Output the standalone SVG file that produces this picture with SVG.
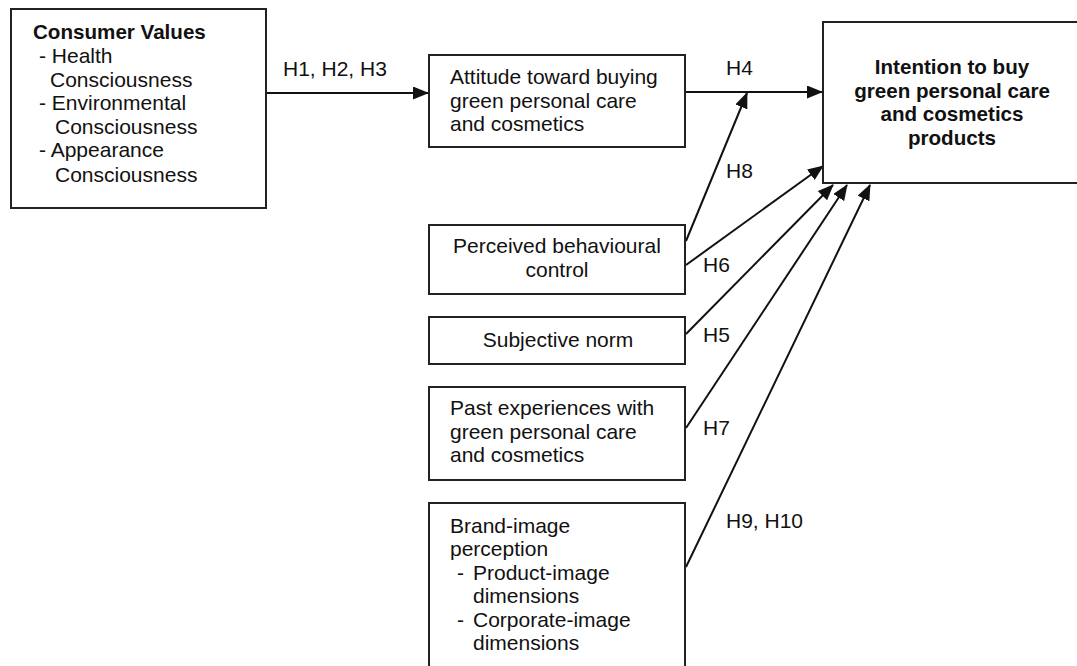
<svg xmlns="http://www.w3.org/2000/svg" width="1077" height="666" viewBox="0 0 1077 666">
<style>
.box{fill:#fff;stroke:#222;stroke-width:2}
.t{font-family:"Liberation Sans",Arial,sans-serif;font-size:21px;fill:#111}
.b{font-weight:bold;font-size:20.6px}
.c{text-anchor:middle}
.e{stroke:#111;stroke-width:2;fill:none;marker-end:url(#ah)}
</style>
<defs>
<marker id="ah" markerUnits="userSpaceOnUse" markerWidth="17" markerHeight="13" refX="15" refY="6.5" orient="auto">
<path d="M0,0 L16,6.5 L0,13 z" fill="#111"/>
</marker>
</defs>
<rect width="1077" height="666" fill="#fff"/>
<g id="connectors">
<line class="e" x1="266" y1="93" x2="428" y2="93"/>
<line class="e" x1="685" y1="92" x2="822" y2="92"/>
<line class="e" x1="686" y1="241" x2="747" y2="93"/>
<line class="e" x1="686" y1="265" x2="823" y2="166"/>
<line class="e" x1="686" y1="334" x2="833" y2="185"/>
<line class="e" x1="686" y1="428" x2="847" y2="185"/>
<line class="e" x1="686" y1="567" x2="870" y2="185"/>
</g>
<g id="labels">
<text class="t" x="283" y="76">H1, H2, H3</text>
<text class="t" x="726" y="75">H4</text>
<text class="t" x="726" y="178">H8</text>
<text class="t" x="703" y="272">H6</text>
<text class="t" x="703" y="342">H5</text>
<text class="t" x="703" y="435">H7</text>
<text class="t" x="726" y="528">H9, H10</text>
</g>
<g id="consumer-values">
<rect class="box" x="11" y="9" width="255" height="199"/>
<text class="t b" x="33" y="39">Consumer Values</text>
<text class="t" x="39" y="63">- Health</text>
<text class="t" x="50" y="87">Consciousness</text>
<text class="t" x="39" y="110">- Environmental</text>
<text class="t" x="55" y="134">Consciousness</text>
<text class="t" x="39" y="157">- Appearance</text>
<text class="t" x="55" y="182">Consciousness</text>
</g>
<g id="attitude">
<rect class="box" x="429" y="55" width="256" height="92"/>
<text class="t" x="450" y="84">Attitude toward buying</text>
<text class="t" x="450" y="107.5">green personal care</text>
<text class="t" x="450" y="131">and cosmetics</text>
</g>
<g id="intention">
<rect class="box" x="823" y="22" width="260" height="161"/>
<text class="t b c" x="952" y="74">Intention to buy</text>
<text class="t b c" x="952" y="97.5">green personal care</text>
<text class="t b c" x="952" y="121">and cosmetics</text>
<text class="t b c" x="952" y="145">products</text>
</g>
<g id="pbc">
<rect class="box" x="429" y="225" width="256" height="69"/>
<text class="t c" x="557" y="253">Perceived behavioural</text>
<text class="t c" x="557" y="277">control</text>
</g>
<g id="subjective-norm">
<rect class="box" x="429" y="317" width="256" height="47"/>
<text class="t c" x="558" y="347">Subjective norm</text>
</g>
<g id="past-experiences">
<rect class="box" x="429" y="387" width="256" height="93"/>
<text class="t" x="450" y="415">Past experiences with</text>
<text class="t" x="450" y="438.5">green personal care</text>
<text class="t" x="450" y="462">and cosmetics</text>
</g>
<g id="brand-image">
<rect class="box" x="429" y="503" width="256" height="170"/>
<text class="t" x="450" y="533">Brand-image</text>
<text class="t" x="450" y="556">perception</text>
<text class="t" x="457" y="580">-</text>
<text class="t" x="473" y="580">Product-image</text>
<text class="t" x="473" y="603">dimensions</text>
<text class="t" x="457" y="627">-</text>
<text class="t" x="473" y="627">Corporate-image</text>
<text class="t" x="473" y="650">dimensions</text>
</g>
</svg>
